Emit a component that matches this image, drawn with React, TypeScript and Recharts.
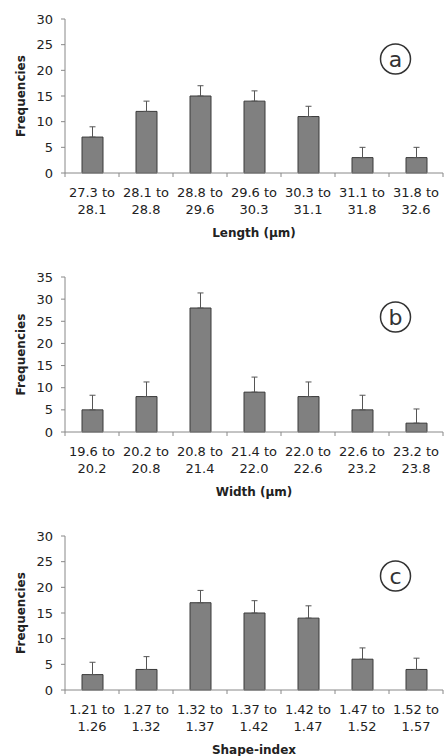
import { BarChart, Bar, XAxis, YAxis, ErrorBar, Customized } from "recharts";

// bin labels
const lengthBins = ["27.3 to 28.1", "28.1 to 28.8", "28.8 to 29.6", "29.6 to 30.3", "30.3 to 31.1", "31.1 to 31.8", "31.8 to 32.6"];
const widthBins = ["19.6 to 20.2", "20.2 to 20.8", "20.8 to 21.4", "21.4 to 22.0", "22.0 to 22.6", "22.6 to 23.2", "23.2 to 23.8"];
const shapeBins = ["1.21 to 1.26", "1.27 to 1.32", "1.32 to 1.37", "1.37 to 1.42", "1.42 to 1.47", "1.47 to 1.52", "1.52 to 1.57"];

// frequencies
const lengthFreq = [7, 12, 15, 14, 11, 3, 3];
const widthFreq = [5, 8, 28, 9, 8, 5, 2];
const shapeFreq = [3, 4, 17, 15, 14, 6, 4];

// upper error
const lengthErr = [2, 2, 2, 2, 2, 2, 2];
const widthErr = [3.3, 3.3, 3.4, 3.4, 3.3, 3.3, 3.2];
const shapeErr = [2.4, 2.5, 2.4, 2.4, 2.4, 2.2, 2.2];

const lengthTicks = [0, 5, 10, 15, 20, 25, 30];
const widthTicks = [0, 5, 10, 15, 20, 25, 30, 35];
const shapeTicks = [0, 5, 10, 15, 20, 25, 30];

const FONT = "'DejaVu Sans', Arial, sans-serif";
const TEXT = "#222";
const AXIS = "#888";
const CAT_W = 54;

function BinTick(props: any) {
  const { x, y, payload, index, count } = props;
  const [lo, hi] = String(payload.value).split(" to ");
  return (
    <g>
      <line x1={x - CAT_W / 2} y1={y} x2={x - CAT_W / 2} y2={y + 4} stroke={AXIS} />
      {index === count - 1 && (
        <line x1={x + CAT_W / 2} y1={y} x2={x + CAT_W / 2} y2={y + 4} stroke={AXIS} />
      )}
      <text x={x} y={y + 24} textAnchor="middle" fontSize={13} fill={TEXT} fontFamily={FONT}>
        {lo} to
      </text>
      <text x={x} y={y + 41} textAnchor="middle" fontSize={13} fill={TEXT} fontFamily={FONT}>
        {hi}
      </text>
    </g>
  );
}

function Panel(props: {
  bins: string[];
  freq: number[];
  err: number[];
  ticks: number[];
  title: string;
  letter: string;
  top: number;
  height: number;
  marginTop: number;
}) {
  const { bins, freq, err, ticks, title, letter, top, height, marginTop } = props;
  const data = bins.map((bin, i) => ({ bin, freq: freq[i], err: [0, err[i]] }));
  const maxTick = ticks[ticks.length - 1];
  return (
    <div style={{ position: "absolute", left: 0, top }}>
      <BarChart
        width={444}
        height={height}
        data={data}
        margin={{ top: marginTop, right: 1, bottom: 0, left: 0 }}
        barSize={21}
        style={{ fontFamily: FONT }}
      >
        <XAxis
          dataKey="bin"
          interval={0}
          height={77}
          stroke={AXIS}
          tickLine={false}
          tickSize={0}
          tickMargin={0}
          tick={(p: any) => <BinTick {...p} count={bins.length} />}
          label={{
            value: title,
            position: "insideBottom",
            offset: 13,
            fill: TEXT,
            fontSize: 12,
            fontWeight: "bold",
            fontFamily: FONT,
          }}
        />
        <YAxis
          width={65}
          domain={[0, maxTick]}
          ticks={ticks}
          interval={0}
          stroke={AXIS}
          tickSize={4}
          tickMargin={8}
          tick={{ fill: TEXT, fontSize: 13, fontFamily: FONT }}
          label={{
            value: "Frequencies",
            angle: -90,
            position: "insideLeft",
            offset: 21,
            fill: TEXT,
            fontSize: 12,
            fontWeight: "bold",
            fontFamily: FONT,
            style: { textAnchor: "middle" },
          }}
        />
        <Bar dataKey="freq" fill="#808080" stroke="#3a3a3a" strokeWidth={1} isAnimationActive={false}>
          <ErrorBar dataKey="err" direction="y" width={3} stroke="#555" strokeWidth={1} isAnimationActive={false} />
        </Bar>
        <Customized
          component={() => (
            <g>
              <circle cx={395.5} cy={marginTop + 40} r={15} fill="none" stroke="#333" strokeWidth={1.5} />
              <text x={395.5} y={marginTop + 47.5} textAnchor="middle" fontSize={22} fill="#333" fontFamily={FONT}>
                {letter}
              </text>
            </g>
          )}
        />
      </BarChart>
    </div>
  );
}

export default function App() {
  return (
    <div style={{ position: "absolute", left: 0, top: 0, width: 444, height: 756, overflow: "hidden", background: "#fff" }}>
      <Panel bins={lengthBins} freq={lengthFreq} err={lengthErr} ticks={lengthTicks} title="Length (µm)" letter="a" top={0} height={250} marginTop={19} />
      <Panel bins={widthBins} freq={widthFreq} err={widthErr} ticks={widthTicks} title="Width (µm)" letter="b" top={250} height={259} marginTop={27} />
      <Panel bins={shapeBins} freq={shapeFreq} err={shapeErr} ticks={shapeTicks} title="Shape-index" letter="c" top={509} height={258} marginTop={27} />
    </div>
  );
}
